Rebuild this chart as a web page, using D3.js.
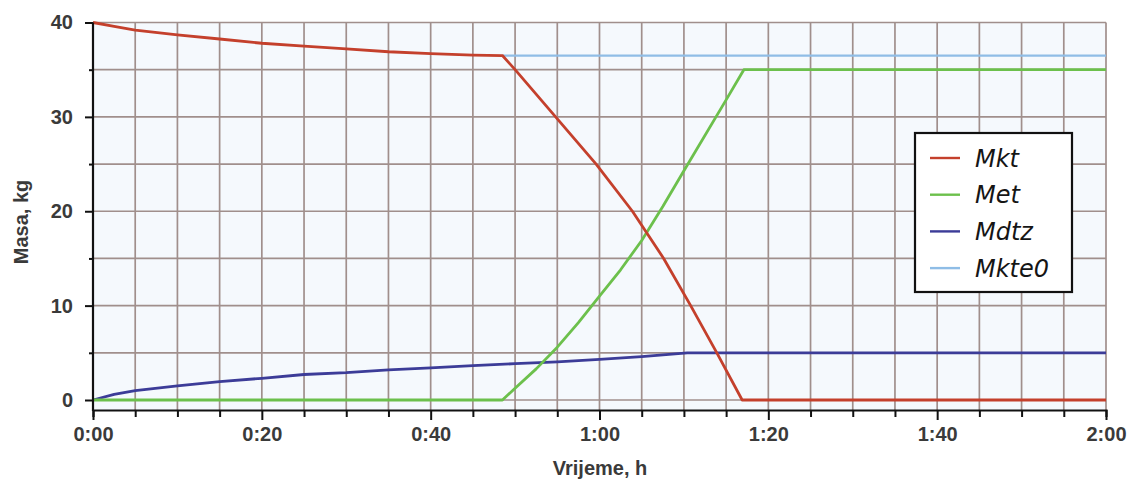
<!DOCTYPE html>
<html>
<head>
<meta charset="utf-8">
<script src="https://cdn.jsdelivr.net/npm/d3@7"></script>
<style>
  html, body { margin: 0; padding: 0; background: #ffffff; }
  svg { display: block; }
</style>
</head>
<body>
<svg id="chart" width="1132" height="482"></svg>
<script>
// ---- data (time in minutes, mass in kg) ----
const mktTime  = [0, 2.5, 5, 10, 15, 20, 25, 30, 35, 40, 45, 48.5, 50, 54.8, 59.6, 63.9, 67.6, 70.8, 73.9, 76.9, 120];
const mktVal   = [40, 39.6, 39.2, 38.7, 38.25, 37.8, 37.5, 37.2, 36.9, 36.7, 36.55, 36.5, 35, 30, 25, 20, 15, 10, 5, 0, 0];

const metTime  = [0, 48.5, 50, 52.5, 55, 57.5, 60, 62.5, 65, 67.5, 70, 75, 77.1, 120];
const metVal   = [0, 0, 1.25, 3.3, 5.6, 8.2, 11.0, 13.8, 16.9, 20.5, 24.3, 31.8, 35.0, 35.0];

const mdtzTime = [0, 2.5, 5, 10, 15, 20, 25, 30, 35, 40, 45, 50, 55, 60, 65, 70.4, 120];
const mdtzVal  = [0, 0.6, 1.0, 1.5, 1.95, 2.3, 2.7, 2.9, 3.2, 3.4, 3.65, 3.85, 4.05, 4.3, 4.6, 5.0, 5.0];

const mkte0Time = [48.5, 120];
const mkte0Val  = [36.5, 36.5];

const seriesNames  = ["Mkt", "Met", "Mdtz", "Mkte0"];
const seriesColors = ["#c4402c", "#6cc04c", "#3c3c98", "#8fbde6"];

const xTickValues = [0, 20, 40, 60, 80, 100, 120];
const xTickLabels = ["0:00", "0:20", "0:40", "1:00", "1:20", "1:40", "2:00"];
const yTickValues = [0, 10, 20, 30, 40];

const xLabel = "Vrijeme, h";
const yLabel = "Masa, kg";

// ---- layout ----
const svg = d3.select("#chart");
const plotLeft = 93, plotRight = 1106, plotTop = 22.5, zeroY = 400, axisY = 410;

const x = d3.scaleLinear().domain([0, 120]).range([plotLeft, plotRight]);
const y = d3.scaleLinear().domain([0, 40]).range([zeroY, plotTop]);

const textFont = "'Liberation Sans', Arial, sans-serif";
const textColor = "#3a3a3a";

// plot background
svg.append("rect")
  .attr("x", plotLeft).attr("y", plotTop)
  .attr("width", plotRight - plotLeft).attr("height", axisY - plotTop)
  .attr("fill", "#f5f9fd");

// grid
const gridColor = "#a08f8c";
const g = svg.append("g");
d3.range(5, 121, 5).forEach(t => {
  g.append("line")
    .attr("x1", x(t)).attr("x2", x(t))
    .attr("y1", plotTop).attr("y2", axisY)
    .attr("stroke", gridColor).attr("stroke-width", 1.7);
});
d3.range(0, 41, 5).forEach(v => {
  g.append("line")
    .attr("x1", plotLeft).attr("x2", plotRight)
    .attr("y1", y(v)).attr("y2", y(v))
    .attr("stroke", gridColor).attr("stroke-width", 1.7);
});

// series
const line = d3.line().x(d => x(d[0])).y(d => y(d[1]));
const series = [
  [mktTime, mktVal],
  [metTime, metVal],
  [mdtzTime, mdtzVal],
  [mkte0Time, mkte0Val]
];
const drawOrder = [3, 2, 1, 0];
drawOrder.forEach(i => {
  const [ts, vs] = series[i];
  svg.append("path")
    .datum(ts.map((t, k) => [t, vs[k]]))
    .attr("d", line)
    .attr("fill", "none")
    .attr("stroke", seriesColors[i])
    .attr("stroke-width", i === 3 ? 2.2 : 2.8)
    .attr("stroke-linejoin", "round");
});

// axes
const xAxis = d3.axisBottom(x)
  .tickValues(d3.range(0, 121, 5))
  .tickSize(7)
  .tickFormat(d => {
    const idx = xTickValues.indexOf(d);
    return idx >= 0 ? xTickLabels[idx] : "";
  });
const xg = svg.append("g").attr("transform", `translate(0,${axisY})`).call(xAxis);
xg.select(".domain").attr("stroke", "#111").attr("stroke-width", 2.2);
xg.selectAll(".tick line").attr("stroke", "#111").attr("stroke-width", 2)
  .attr("y2", d => xTickValues.includes(d) ? 10 : 7);
xg.selectAll(".tick text")
  .attr("y", 17).attr("dy", "0.71em")
  .attr("fill", textColor)
  .style("font-family", textFont)
  .style("font-weight", "bold")
  .style("font-size", "20px");

const yAxis = d3.axisLeft(y)
  .tickValues(d3.range(0, 41, 5))
  .tickSize(8)
  .tickFormat(d => yTickValues.includes(d) ? d : "");
const yg = svg.append("g").attr("transform", `translate(${plotLeft},0)`).call(yAxis);
yg.select(".domain").remove();
yg.append("line")
  .attr("x1", 0).attr("x2", 0).attr("y1", plotTop).attr("y2", axisY + 1)
  .attr("stroke", "#111").attr("stroke-width", 2.2);
yg.selectAll(".tick line").attr("stroke", "#111").attr("stroke-width", 2)
  .attr("x2", d => yTickValues.includes(d) ? -8 : -4);
yg.selectAll(".tick text")
  .attr("x", -20)
  .attr("fill", textColor)
  .style("font-family", textFont)
  .style("font-weight", "bold")
  .style("font-size", "20px");

// axis labels
svg.append("text")
  .attr("x", 600).attr("y", 475)
  .attr("text-anchor", "middle")
  .attr("fill", textColor)
  .style("font-family", textFont)
  .style("font-weight", "bold")
  .style("font-size", "20px")
  .text(xLabel);
svg.append("text")
  .attr("transform", "translate(28,222) rotate(-90)")
  .attr("text-anchor", "middle")
  .attr("fill", textColor)
  .style("font-family", textFont)
  .style("font-weight", "bold")
  .style("font-size", "20px")
  .text(yLabel);

// legend
const lg = svg.append("g");
lg.append("rect")
  .attr("x", 915).attr("y", 133).attr("width", 157).attr("height", 159)
  .attr("fill", "#ffffff").attr("stroke", "#111").attr("stroke-width", 2.2);
seriesNames.forEach((name, i) => {
  const cy = 158 + i * 36.7;
  lg.append("line")
    .attr("x1", 930).attr("x2", 960).attr("y1", cy).attr("y2", cy)
    .attr("stroke", seriesColors[i]).attr("stroke-width", 2.4);
  lg.append("text")
    .attr("x", 975).attr("y", cy).attr("dy", "0.36em")
    .attr("fill", "#151515")
    .style("font-family", "'DejaVu Sans', Verdana, sans-serif")
    .style("font-style", "italic")
    .style("font-size", "24px")
    .text(name);
});
</script>
</body>
</html>
